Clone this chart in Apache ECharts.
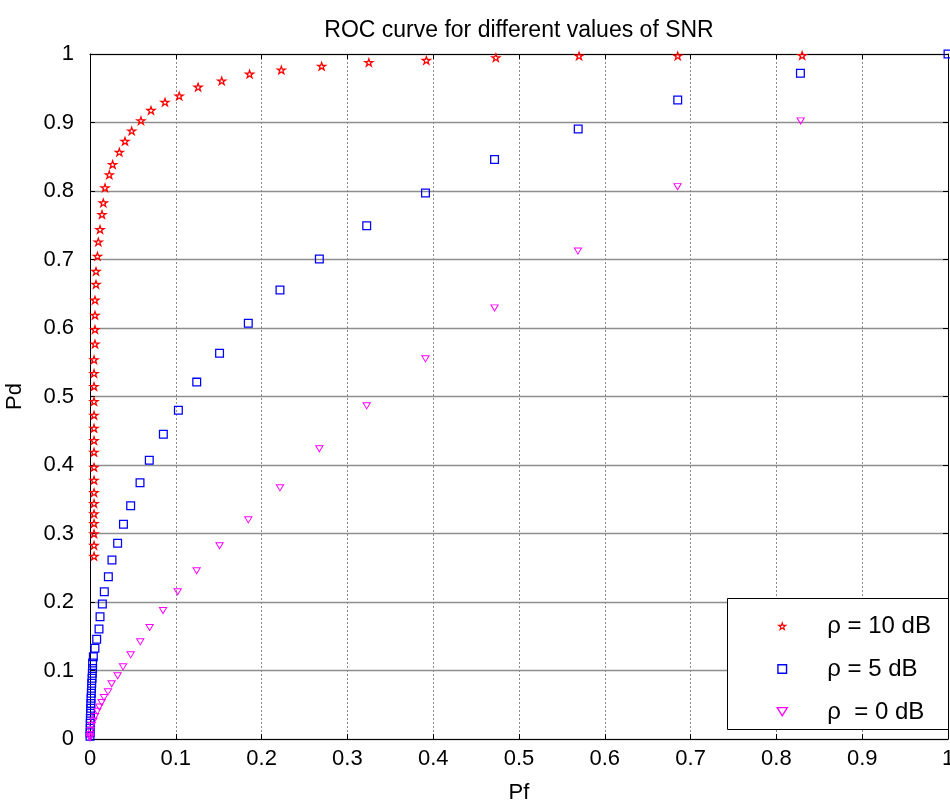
<!DOCTYPE html>
<html>
<head>
<meta charset="utf-8">
<script src="https://cdn.jsdelivr.net/npm/echarts@6/dist/echarts.min.js"></script>
<style>html,body{margin:0;padding:0;background:#fff}#c{width:950px;height:807px}</style>
</head>
<body>
<div id="c"></div>
<script>
// ---- data ----
const chartTitle = 'ROC curve for different values of SNR';
const xName = 'Pf';
const yName = 'Pd';
const seriesNames = ['ρ = 10 dB', 'ρ = 5 dB', 'ρ  = 0 dB'];
const xTickLabels = ['0', '0.1', '0.2', '0.3', '0.4', '0.5', '0.6', '0.7', '0.8', '0.9', '1'];
const yTickLabels = ['0', '0.1', '0.2', '0.3', '0.4', '0.5', '0.6', '0.7', '0.8', '0.9', '1'];

const pf10 = [0.830, 0.685, 0.570, 0.473, 0.392, 0.325, 0.270, 0.223, 0.186, 0.1535,
  0.126, 0.104, 0.0874, 0.0711, 0.0594, 0.0486, 0.0408, 0.0342, 0.0264, 0.0225,
  0.0175, 0.0155, 0.014, 0.0117, 0.0097, 0.0087, 0.007, 0.007, 0.0058, 0.0058,
  0.0058, 0.0058, 0.0047, 0.0047, 0.0047, 0.0047, 0.0047, 0.0047, 0.0047, 0.0047,
  0.0047, 0.0047, 0.0047, 0.0047, 0.0047, 0.0047, 0.0047, 0.0047, 0.0047];
const pd10 = [0.998, 0.9975, 0.9975, 0.995, 0.991, 0.988, 0.9825, 0.977, 0.971, 0.961,
  0.952, 0.939, 0.930, 0.918, 0.903, 0.888, 0.873, 0.857, 0.839, 0.824,
  0.805, 0.783, 0.766, 0.744, 0.726, 0.705, 0.683, 0.664, 0.641, 0.619,
  0.598, 0.577, 0.554, 0.534, 0.515, 0.493, 0.473, 0.454, 0.436, 0.419,
  0.397, 0.378, 0.360, 0.344, 0.329, 0.315, 0.300, 0.283, 0.267];

const pf5 = [1.0, 0.828, 0.685, 0.569, 0.4715, 0.391, 0.3225, 0.2673, 0.2214, 0.1845,
  0.151, 0.1244, 0.103, 0.0855, 0.0691, 0.0583, 0.0474, 0.039, 0.0322, 0.0256,
  0.0214, 0.0167, 0.0144, 0.0117, 0.0105, 0.0078, 0.0058, 0.0039,
  0.003, 0.003, 0.0027, 0.0024, 0.002, 0.0018, 0.0015, 0.0012, 0.001, 0.0008,
  0.0006, 0.0004, 0.0003, 0.0002, 0.0001, 0.0];
const pd5 = [1.0, 0.972, 0.9327, 0.8904, 0.846, 0.797, 0.7494, 0.7007, 0.6555, 0.607,
  0.563, 0.521, 0.480, 0.445, 0.407, 0.374, 0.3406, 0.3134, 0.2857, 0.2613,
  0.237, 0.215, 0.197, 0.1786, 0.1606, 0.1455, 0.1324, 0.120,
  0.111, 0.103, 0.096, 0.0886, 0.0813, 0.074, 0.0667, 0.0594, 0.052, 0.0448,
  0.0375, 0.030, 0.023, 0.0156, 0.009, 0.004];

const pf0 = [0.8283, 0.6848, 0.5687, 0.4715, 0.391, 0.3225, 0.2673, 0.2214, 0.1845, 0.151,
  0.1243, 0.1022, 0.0851, 0.0695, 0.0586, 0.0474, 0.0385, 0.0322, 0.0252, 0.021,
  0.0163, 0.0136, 0.0108, 0.0085, 0.0058, 0.004, 0.002, 0.0008, 0.0003, 0.0001, 0.0];
const pd0 = [0.902, 0.806, 0.712, 0.629, 0.5547, 0.486, 0.4234, 0.3664, 0.3197, 0.2818,
  0.2453, 0.2146, 0.1873, 0.1625, 0.1416, 0.1226, 0.1051, 0.092, 0.0803, 0.0686,
  0.0603, 0.053, 0.0462, 0.040, 0.0326, 0.026, 0.0195, 0.012, 0.006, 0.003, 0.001];

// ---- marker shapes (hollow outlines as ring paths) ----
function starRing() {
  function poly(R, r, rev) {
    const pts = [];
    for (let k = 0; k < 10; k++) {
      const a = (-90 + 36 * k) * Math.PI / 180;
      const rad = k % 2 === 0 ? R : r;
      pts.push([10 + rad * Math.cos(a), 10 + rad * Math.sin(a)]);
    }
    if (rev) pts.reverse();
    return 'M' + pts.map(p => p[0].toFixed(3) + ' ' + p[1].toFixed(3)).join(' L') + ' Z';
  }
  return 'path://' + poly(10, 3.82, false) + ' ' + poly(3.4, 1.3, true);
}
const starSym = starRing();
const squareSym = 'path://M0 0 L10 0 L10 10 L0 10 Z M1.4 1.4 L1.4 8.6 L8.6 8.6 L8.6 1.4 Z';
const triSym = 'path://M0 0 L10 0 L5 8 Z M1.9 1.05 L5 6.0 L8.1 1.05 Z';

function pairs(xs, ys) { return xs.map((x, i) => [x, ys[i]]); }

const FONT = "'Liberation Sans', Arial, sans-serif";
const chart = echarts.init(document.getElementById('c'), null, {renderer: 'canvas'});

function mkAxis(pos, labels, isX) {
  const main = pos === 'bottom' || pos === 'left';
  return {
    type: 'value', min: 0, max: 1, interval: 0.1, position: pos,
    axisLine: {show: true, onZero: false, lineStyle: {color: '#000', width: 1}},
    axisTick: {show: true, inside: true, length: 5, lineStyle: {color: '#000', width: 1}},
    axisLabel: {
      show: main, color: '#000', fontSize: 22, fontFamily: FONT,
      margin: isX ? 9 : 16,
      showMinLabel: true, showMaxLabel: true,
      formatter: v => labels[Math.round(v * 10)]
    },
    splitLine: {
      show: main,
      lineStyle: isX ? {color: '#8a8a8a', width: 1, type: [2, 2]} : {color: '#8e8e8e', width: 1.3, type: 'solid'}
    },
    name: main ? (isX ? xName : yName) : '',
    nameLocation: 'middle',
    nameGap: isX ? 43 : 64,
    nameTextStyle: {color: '#000', fontSize: 22, fontFamily: FONT}
  };
}

const markers = [starSym, squareSym, triSym];
const sizes = [[12, 11], [9, 9], [9, 7.5]];
const colors = ['#ff0000', '#0000ff', '#ff00ff'];
const datas = [pairs(pf10, pd10), pairs(pf5, pd5), pairs(pf0, pd0)];

chart.setOption({
  animation: false,
  backgroundColor: '#fff',
  title: {
    text: chartTitle, left: 519, top: 19, textAlign: 'center',
    padding: 0,
    textStyle: {color: '#000', fontSize: 23, fontWeight: 'normal', fontFamily: FONT}
  },
  grid: {left: 90, right: 2, top: 54, bottom: 68, containLabel: false, outerBoundsMode: 'none'},
  xAxis: [mkAxis('bottom', xTickLabels, true), mkAxis('top', xTickLabels, true)],
  yAxis: [mkAxis('left', yTickLabels, false), mkAxis('right', yTickLabels, false)],
  legend: {
    orient: 'vertical', left: 762, top: 614,
    padding: [0, 5, 0, 14],
    itemWidth: 80, itemHeight: 10, itemGap: 19,
    data: seriesNames,
    textStyle: {color: '#000', fontSize: 24, fontFamily: FONT, lineHeight: 22},
    z: 10
  },
  graphic: [{
    type: 'rect', left: 727, top: 598, z: 5,
    shape: {width: 221, height: 131},
    style: {fill: '#fff', stroke: '#000', lineWidth: 1}
  }],
  series: seriesNames.map((name, i) => ({
    name: name, type: 'scatter', xAxisIndex: 0, yAxisIndex: 0,
    data: datas[i], symbol: markers[i], symbolSize: sizes[i],
    itemStyle: {color: colors[i], opacity: 1},
    emphasis: {disabled: true}, silent: true, clip: false, z: 2 + i
  }))
});
</script>
</body>
</html>
